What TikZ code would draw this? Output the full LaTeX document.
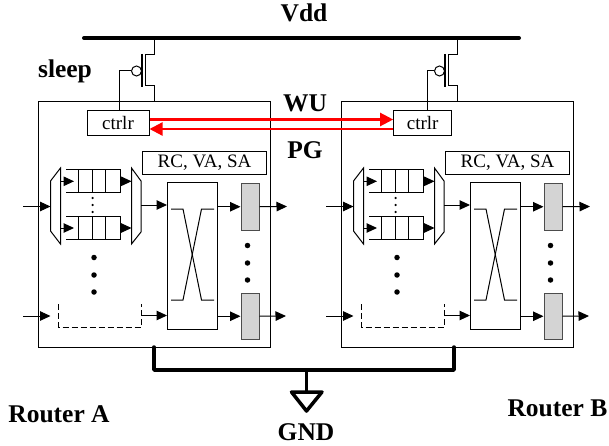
\documentclass[tikz,border=0pt]{standalone}
\usepackage{fontspec}
\setmainfont{Liberation Serif}
\usetikzlibrary{arrows.meta}

\tikzset{
    box/.style={draw, rectangle, inner sep=0pt, line width=1pt},
    buf/.style={box, fill=black!17, draw=black!70, minimum width=18pt, minimum height=46.5pt},
    dot/.style={circle, fill=black, inner sep=0pt, minimum size=#1},
    wire/.style={line width=1pt},
    sig/.style={wire, -{Triangle[length=10.5pt, width=9.5pt]}},
    redsig/.style={draw=red, line width=2.2pt, -{Triangle[length=13pt, width=13pt]}},
    rail/.style={line width=3.5pt, line cap=round, line join=round},
    lab/.style={font=\fontsize{25.5}{25.5}\selectfont\bfseries, inner sep=0pt},
    txt/.style={font=\fontsize{19}{19}\selectfont}
}

\begin{document}
\begin{tikzpicture}[x=1pt, y=-1pt]
    \useasboundingbox (0, 0) rectangle (609, 446);

    \coordinate (vddl) at (84, 38);
    \coordinate (vddr) at (519, 38);
    \draw[line width=4pt, line cap=round] (vddl) -- (vddr);

    \foreach \r/\dx/\cx/\cw/\wx in {a/0/118/62/119.3, b/303/422.7/58/427} {
        \node[box, minimum width=232pt, minimum height=245pt] (router\r) at (154+\dx, 224.5) {};
        \node[box, txt, minimum width=\cw pt, minimum height=25.5pt] (ctrlr\r) at (\cx, 123.25) {ctrlr};
        \node[box, txt, minimum width=124.5pt, minimum height=23pt] (rc\r) at (204.5+\dx, 163) {RC, VA, SA};

        % pmos header
        \node[circle, draw, wire, inner sep=0pt, minimum size=10pt] (bubble\r) at (136.5+\dx, 71) {};
        \coordinate (drain\r) at (154+\dx, 102);
        \coordinate (source\r) at (154+\dx, 38);
        \draw[wire] (source\r) -- ++(0, 16.5) -- ++(-8.5, 0) -- ++(0, 31) -- ++(8.5, 0) -- (drain\r);
        \draw[line width=1.5pt] (142+\dx, 54) -- (142+\dx, 87);
        \draw[wire] (bubble\r.west) -| (\wx, 110.5);

        % muxes
        \draw[wire] (60.5+\dx, 168) -- (50.5+\dx, 181) -- (50.5+\dx, 231) -- (60.5+\dx, 244) -- cycle;
        \draw[wire] (131.5+\dx, 168) -- (141+\dx, 181) -- (141+\dx, 232) -- (131.5+\dx, 244) -- cycle;
        \coordinate (muxin\r) at (50.5+\dx, 206.5);
        \coordinate (muxout\r) at (141+\dx, 205);
        \coordinate (in\r) at (23+\dx, 206.5);
        \draw[sig] (in\r) -- (muxin\r);

        % queues
        \foreach \q/\y in {1/169.3, 2/216} {
            \draw[wire] (66+\dx, \y) -- (120+\dx, \y) -- (120+\dx, \y+23.4) -- (66+\dx, \y+23.4);
            \foreach \x in {78.5, 92, 105.5} {
                \draw[wire] (\x+\dx, \y) -- (\x+\dx, \y+23.4);
            }
            \coordinate (qin\r\q) at (60.5+\dx, \y+12);
            \coordinate (qtip\r\q) at (74+\dx, \y+12);
            \coordinate (qout\r\q) at (120+\dx, \y+12);
            \coordinate (qend\r\q) at (131.5+\dx, \y+12);
            \draw[sig] (qin\r\q) -- (qtip\r\q);
            \draw[sig] (qout\r\q) -- (qend\r\q);
        }
        \foreach \y in {198, 205, 212} {
            \node[dot=2.4pt] at (92.6+\dx, \y) {};
        }
        \foreach \y in {257.5, 275, 292} {
            \node[dot=5.5pt] at (94+\dx, \y) {};
        }

        % crossbar
        \node[box, minimum width=50pt, minimum height=147pt] (xbar\r) at (192.5+\dx, 256) {};
        \draw[wire] (171+\dx, 209) -- (183+\dx, 209) -- (201.5+\dx, 300) -- (214+\dx, 300);
        \draw[wire] (214+\dx, 209) -- (201.5+\dx, 209) -- (183+\dx, 300) -- (171+\dx, 300);
        \draw[sig] (muxout\r) -- (muxout\r -| xbar\r.west);

        % output buffers
        \node[buf] (bufa\r) at (250+\dx, 206.75) {};
        \node[buf] (bufb\r) at (250+\dx, 316.25) {};
        \coordinate (outa\r) at (287+\dx, 206.5);
        \coordinate (outb\r) at (286+\dx, 316);
        \draw[sig] (bufa\r.center -| xbar\r.east) -- (bufa\r.west);
        \draw[sig] (bufb\r.center -| xbar\r.east) -- (bufb\r.west);
        \draw[sig] (bufa\r.east) -- (outa\r);
        \draw[sig] (bufb\r.east) -- (outb\r);
        \foreach \y in {245.5, 263, 280} {
            \node[dot=5.5pt] at (247.5+\dx, \y) {};
        }

        % last port
        \coordinate (dasha\r) at (58.7+\dx, 304);
        \coordinate (dashb\r) at (141.7+\dx, 304);
        \coordinate (lastin\r) at (23+\dx, 316);
        \coordinate (lasttip\r) at (50.5+\dx, 316);
        \coordinate (lastout\r) at (141.7+\dx, 315.5);
        \draw[wire, dash pattern=on 6pt off 3pt] (dasha\r) |- (141.7+\dx, 327) -- (dashb\r);
        \draw[sig] (lastin\r) -- (lasttip\r);
        \draw[sig] (lastout\r) -- (lastout\r -| xbar\r.west);
    }

    \draw[redsig] ([yshift=3.75pt]ctrlra.east) -- ([yshift=3.75pt]ctrlrb.west);
    \draw[redsig] ([yshift=-5.75pt]ctrlrb.west) -- ([yshift=-5.75pt]ctrlra.east);

    % ground
    \coordinate (gnda) at (154, 347);
    \coordinate (gndb) at (454, 347);
    \coordinate (gndm) at (306.5, 370);
    \draw[rail] (gnda) |- (gndb |- gndm) -- (gndb);
    \draw[rail, line cap=butt] (gndm) -- (306.5, 392);
    \draw[rail] (291.5, 392) -- (322, 392) -- (306.5, 411) -- cycle;

    \node[lab] (vdd) at (304, 13) {Vdd};
    \node[lab] (sleep) at (65, 71) {sleep};
    \node[lab] (wu) at (305, 103) {WU};
    \node[lab] (pg) at (305, 150) {PG};
    \node[lab] (routera) at (59, 414) {Router A};
    \node[lab] (routerb) at (557.5, 408) {Router B};
    \node[lab] (gnd) at (306, 432) {GND};
\end{tikzpicture}
\end{document}
